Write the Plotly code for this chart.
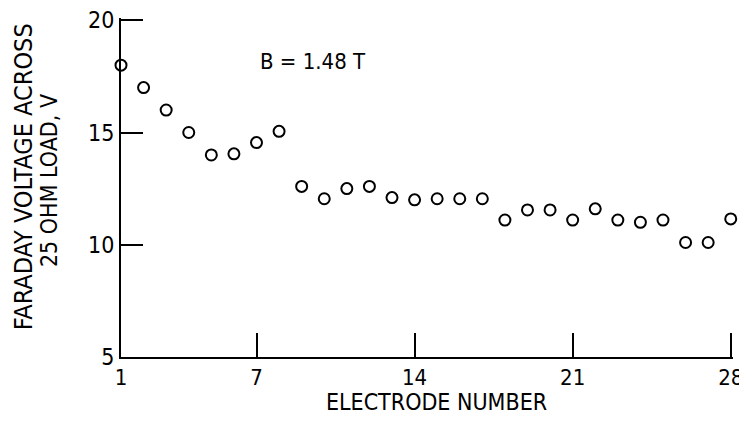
import plotly.graph_objects as go

electrode = list(range(1, 29))
voltage = [18.0, 17.0, 16.0, 15.0, 14.0, 14.05, 14.55, 15.05, 12.6, 12.05, 12.5, 12.6,
           12.1, 12.0, 12.05, 12.05, 12.05, 11.1, 11.55, 11.55, 11.1, 11.6, 11.1, 11.0,
           11.1, 10.1, 10.1, 11.15]
x_ticks = [1, 7, 14, 21, 28]
y_ticks = [5, 10, 15, 20]
label_text = "B = 1.48 T"
x_title = "ELECTRODE NUMBER"
y_title_lines = ["FARADAY VOLTAGE ACROSS", "25 OHM LOAD, V"]

FONT = "DejaVu Sans Condensed, Liberation Sans Narrow, sans-serif"

fig = go.Figure()
fig.add_trace(go.Scatter(
    x=electrode, y=voltage, mode="markers",
    marker=dict(symbol="circle-open", size=11, color="black", line=dict(width=2, color="black")),
    cliponaxis=False, showlegend=False,
))

fig.add_annotation(x=9.48, y=18.17, text=label_text, showarrow=False,
                   font=dict(size=22, color="black", family=FONT))

# x-axis title
fig.add_annotation(xref="paper", yref="paper", x=0.516, y=0, yshift=-45,
                   xanchor="center", yanchor="middle", text=x_title, showarrow=False,
                   font=dict(size=23, color="black", family=FONT))
# y-axis title (two lines)
fig.add_annotation(xref="paper", yref="paper", x=0, xshift=-98, y=0.53,
                   xanchor="center", yanchor="middle", textangle=-90,
                   text=y_title_lines[0], showarrow=False,
                   font=dict(size=25, color="black", family=FONT))
fig.add_annotation(xref="paper", yref="paper", x=0, xshift=-72, y=0.519,
                   xanchor="center", yanchor="middle", textangle=-90,
                   text=y_title_lines[1], showarrow=False,
                   font=dict(size=23, color="black", family=FONT))

fig.update_layout(
    width=739, height=417,
    margin=dict(l=113, r=14, t=10, b=68),
    paper_bgcolor="white", plot_bgcolor="white",
    font=dict(family=FONT, color="black", size=22),
    xaxis=dict(range=[1, 28.1], tickvals=x_ticks, ticktext=[str(v) for v in x_ticks],
               automargin=False, ticklabeloverflow="allow",
               showgrid=False, zeroline=False, showline=True, linecolor="black", linewidth=2,
               ticks="inside", ticklen=24, tickwidth=2, tickcolor="black",
               tickfont=dict(size=22)),
    yaxis=dict(range=[5, 20.1], tickvals=y_ticks, ticktext=[str(v) for v in y_ticks],
               automargin=False, ticklabeloverflow="allow",
               showgrid=False, zeroline=False, showline=True, linecolor="black", linewidth=2,
               ticks="inside", ticklen=22, tickwidth=2, tickcolor="black",
               tickfont=dict(size=23)),
)

fig.write_html("out.html")
